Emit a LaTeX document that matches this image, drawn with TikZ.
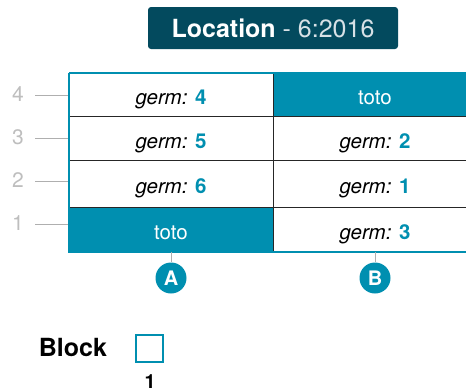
\documentclass[tikz,border=0pt]{standalone}
\usepackage{fontspec}
\setmainfont{TeX Gyre Heros}
\definecolor{teal1}{RGB}{0,143,176}
\definecolor{titlebg}{RGB}{3,74,94}
\definecolor{lblgray}{RGB}{190,190,190}
\definecolor{linegray}{RGB}{175,175,175}
\definecolor{titlegray}{RGB}{215,225,230}
\begin{document}
\begin{tikzpicture}[x=1pt,y=-1pt,
  cellw/.style={draw=none,fill=white,minimum width=204pt,inner sep=0pt,text height=20pt,text depth=0pt,font=\fontsize{20.5}{24}\selectfont},
  cellt/.style={cellw,fill=teal1,text=white},
  rowlbl/.style={text=lblgray,font=\fontsize{21}{24}\selectfont,inner sep=0pt},
  tick/.style={draw=linegray,line width=0.8pt},
  colcirc/.style={circle,fill=teal1,text=white,minimum size=31pt,inner sep=0pt,font=\fontsize{20}{24}\selectfont\bfseries},
  innerline/.style={draw=black!85,line width=0.9pt},
  outerline/.style={draw=teal1,line width=2pt}
]
\clip (0,0) rectangle (466,391);
\useasboundingbox (0,0) rectangle (466,391);
\newcommand{\gm}[1]{\textit{germ:} \textcolor{teal1}{\textbf{#1}}}
% title
\node[fill=titlebg,rounded corners=3pt,minimum width=250pt,minimum height=42pt,inner sep=0pt,font=\fontsize{25}{28}\selectfont] (title) at (273,28)
  {\textcolor{white}{\textbf{Location}} \textcolor{titlegray}{- 6:2016}};
% cells (rows: 73,116,160,207.5,252)
\node[cellw,minimum height=43pt] (a4) at (171,94.5) {\gm{4}};
\node[cellw,minimum height=44pt] (a3) at (171,138) {\gm{5}};
\node[cellw,minimum height=47.5pt] (a2) at (171,183.75) {\gm{6}};
\node[cellt,minimum height=44.5pt] (a1) at (171,229.75) {toto};
\node[cellt,minimum height=43pt] (b4) at (375,94.5) {toto};
\node[cellw,minimum height=44pt] (b3) at (375,138) {\gm{2}};
\node[cellw,minimum height=47.5pt] (b2) at (375,183.75) {\gm{1}};
\node[cellw,minimum height=44.5pt] (b1) at (375,229.75) {\gm{3}};
% inner lines
\draw[innerline] (a4.south west) -- (b4.south east);
\draw[innerline] (a3.south west) -- (b3.south east);
\draw[innerline] (a2.south west) -- (b2.south east);
\draw[innerline] (a4.north east) -- (a1.south east);
% outer border
\draw[outerline] (a4.north west) -- (b4.north east);
\draw[outerline] (a4.north west) -- (a1.south west) -- (b1.south east);
% row labels
\node[rowlbl] (l4) at (18,94.5) {4};
\node[rowlbl] (l3) at (18,137.5) {3};
\node[rowlbl] (l2) at (18,180.5) {2};
\node[rowlbl] (l1) at (18,223.5) {1};
\coordinate (t4) at (68,95); \coordinate (t3) at (68,138);
\coordinate (t2) at (68,181); \coordinate (t1) at (68,224);
\draw[tick] (35,95) -- (t4);
\draw[tick] (35,138) -- (t3);
\draw[tick] (35,181) -- (t2);
\draw[tick] (35,224) -- (t1);
% column circles
\node[colcirc] (cA) at (171,278) {A};
\node[colcirc] (cB) at (375,278) {B};
\draw[tick] (a1.south) -- (cA.north);
\draw[tick] (b1.south) -- (cB.north);
% legend
\node[font=\fontsize{25}{28}\selectfont\bfseries,inner sep=0pt,anchor=base] (blk) at (73,356) {Block};
\node[draw=teal1,line width=2pt,minimum size=27pt,inner sep=0pt] (sq) at (149.5,348.5) {};
\node[font=\fontsize{19.5}{22}\selectfont\bfseries,inner sep=0pt,anchor=base] (one) at (150,388) {1};
\end{tikzpicture}
\end{document}
